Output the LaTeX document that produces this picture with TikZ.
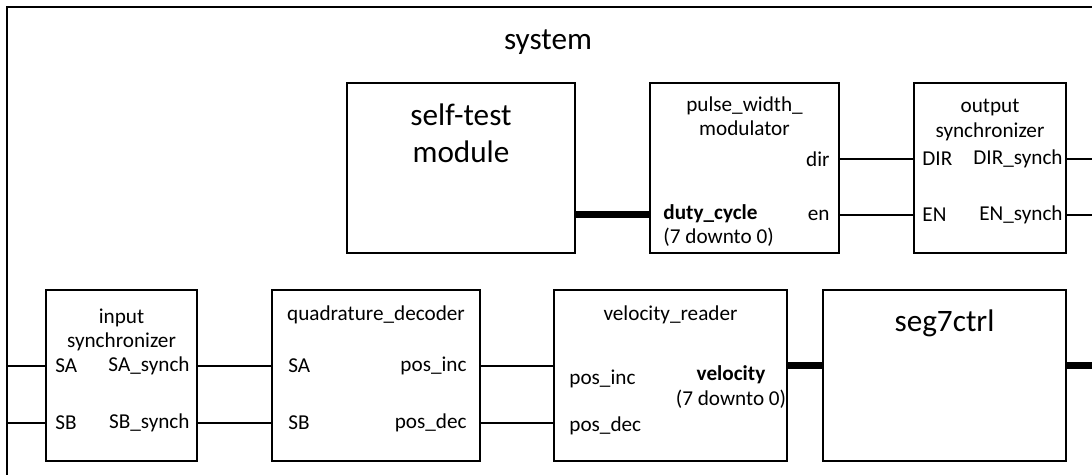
\documentclass[tikz,border=0pt]{standalone}
\usepackage{fontspec}
\setmainfont{Carlito}
\begin{document}
\begin{tikzpicture}[x=0.5pt,y=-0.5pt,
  block/.style={draw, line width=1pt, inner sep=0pt, minimum height=85pt},
  wire/.style={line width=1pt},
  bus/.style={line width=3.5pt},
  frame/.style={line width=1.3pt},
  big/.style={font=\fontsize{15.6}{18.5}\selectfont, inner sep=0pt, align=center},
  small/.style={font=\fontsize{10.6}{12.2}\selectfont, inner sep=0pt},
  title/.style={small, align=center},
  portl/.style={small, anchor=west},
  portr/.style={small, anchor=east}]
\useasboundingbox (0,0) rectangle (1092,475);
\clip (0,0) rectangle (1092,475);

% row heights of the signals
\coordinate (rowDir) at (0,159);
\coordinate (rowEn)  at (0,215);
\coordinate (rowA)   at (0,366);
\coordinate (rowB)   at (0,423);
\coordinate (frameL) at (7,0);
\coordinate (edgeR)  at (1110,0);

% enclosing system frame
\draw[frame] (7,500) -- (7,7) -- (1110,7);
\node[big] (sys) at (548,42) {system};

% upper row of blocks
\node[block, minimum width=114pt] (selftest) at (461,168) {};
\node[big] (selftestT) at (461,133) {self-test\\module};

\node[block, minimum width=94.5pt] (pwm) at (744.5,168) {};
\node[title] (pwmT) at (744.5,116) {pulse\_width\_\\modulator};
\node[portr] (pwmDir) at (830,159) {dir};
\node[portr] (pwmEn) at (830,215) {en};
\node[portl] (pwmDuty) at (663,214) {\bfseries duty\_cycle};
\node[portl] (pwmDutyR) at (663,237) {(7 downto 0)};

\node[block, minimum width=76pt] (outsync) at (990,168) {};
\node[title] (outsyncT) at (990,120) {output\\synchronizer};
\node[portl] (osDir) at (922,159) {DIR};
\node[portr] (osDirS) at (1063,159) {DIR\_synch};
\node[portl] (osEn) at (922,215) {EN};
\node[portr] (osEnS) at (1063,215) {EN\_synch};

% lower row of blocks
\node[block, minimum width=75.5pt, minimum height=85.5pt] (insync) at (121.5,375.5) {};
\node[title] (insyncT) at (121.5,330) {input\\synchronizer};
\node[portl] (isA) at (55,366) {SA};
\node[portr] (isAS) at (190,366) {SA\_synch};
\node[portl] (isB) at (55,423) {SB};
\node[portr] (isBS) at (190,423) {SB\_synch};

\node[block, minimum width=104pt, minimum height=85.5pt] (quad) at (376,375.5) {};
\node[title] (quadT) at (376,315) {quadrature\_decoder};
\node[portl] (qdA) at (288,366) {SA};
\node[portr] (qdInc) at (467,366) {pos\_inc};
\node[portl] (qdB) at (288,423) {SB};
\node[portr] (qdDec) at (467,423) {pos\_dec};

\node[block, minimum width=116.5pt, minimum height=85.5pt] (velo) at (670.5,375.5) {};
\node[title] (veloT) at (670.5,315) {velocity\_reader};
\node[portl] (vrInc) at (569,379) {pos\_inc};
\node[portl] (vrDec) at (569,426) {pos\_dec};
\node[title] (vrVel) at (731,387) {\bfseries velocity\\(7 downto 0)};

\node[block, minimum width=121.5pt, minimum height=85.5pt] (seg) at (944.5,375.5) {};
\node[big] (segT) at (944.5,323) {seg7ctrl};

% connections
\draw[bus] (selftest.east |- rowEn) -- (pwm.west |- rowEn);
\draw[wire] (pwm.east |- rowDir) -- (outsync.west |- rowDir);
\draw[wire] (pwm.east |- rowEn) -- (outsync.west |- rowEn);
\draw[wire] (outsync.east |- rowDir) -- (edgeR |- rowDir);
\draw[wire] (outsync.east |- rowEn) -- (edgeR |- rowEn);

\draw[wire] (frameL |- rowA) -- (insync.west |- rowA);
\draw[wire] (frameL |- rowB) -- (insync.west |- rowB);
\draw[wire] (insync.east |- rowA) -- (quad.west |- rowA);
\draw[wire] (insync.east |- rowB) -- (quad.west |- rowB);
\draw[wire] (quad.east |- rowA) -- (velo.west |- rowA);
\draw[wire] (quad.east |- rowB) -- (velo.west |- rowB);
\draw[bus] (velo.east |- rowA) -- (seg.west |- rowA);
\draw[bus] (seg.east |- rowA) -- (edgeR |- rowA);
\end{tikzpicture}
\end{document}
